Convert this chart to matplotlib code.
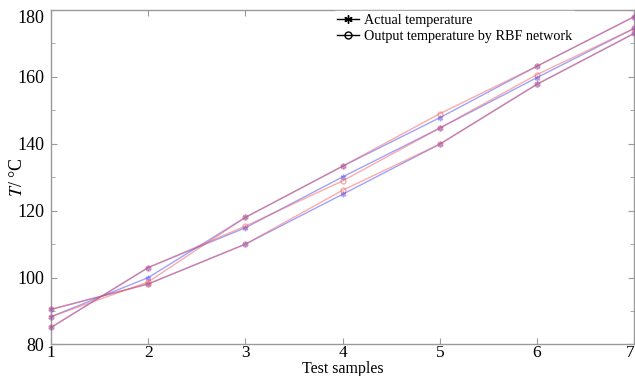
import matplotlib
matplotlib.use('Agg')
import matplotlib.pyplot as plt
from matplotlib.lines import Line2D

plt.rcParams['font.family'] = ['Liberation Serif', 'DejaVu Serif']
plt.rcParams['mathtext.fontset'] = 'stix'

# ── Data ─────────────────────────────────────────────────────────────────────
samples = [1, 2, 3, 4, 5, 6, 7]

actual_1 = [85.1, 103.0, 114.9, 130.1, 144.7, 159.8, 174.5]
output_1 = [85.1, 103.0, 115.4, 128.9, 144.7, 160.7, 174.5]

actual_2 = [88.3, 100.0, 118.0, 133.3, 147.8, 163.2, 178.0]
output_2 = [88.3, 98.7, 118.0, 133.3, 149.0, 163.2, 178.0]

actual_3 = [90.5, 98.1, 110.0, 124.9, 139.9, 157.8, 173.0]
output_3 = [90.5, 98.1, 110.0, 126.1, 139.9, 157.8, 173.0]

y_major = [80, 100, 120, 140, 160, 180]
y_minor = [90, 110, 130, 150, 170]

ACTUAL_SERIES = [actual_1, actual_2, actual_3]
OUTPUT_SERIES = [output_1, output_2, output_3]

BLUE = '#4646f0'
RED = '#f25a5a'
GRAY = '#9a9a9a'
ASTERISK = (6, 2, 0)

fig = plt.figure(figsize=(6.35, 3.76), dpi=100)
ax = fig.add_axes([0.0803, 0.0838, 0.9184, 0.8896])

for ys in ACTUAL_SERIES:
    ax.plot(samples, ys, color=BLUE, lw=1.0, alpha=0.5, marker=ASTERISK, ms=4,
            mec=BLUE, mfc=BLUE, clip_on=False, zorder=3)
for ys in OUTPUT_SERIES:
    ax.plot(samples, ys, color=RED, lw=1.0, alpha=0.5, marker='o', ms=3.5,
            mec=RED, mfc='none', clip_on=False, zorder=3)

ax.set_xlim(1, 7)
ax.set_ylim(80, 180)
ax.set_xticks(samples)
ax.set_yticks(y_major)
ax.set_yticks(y_minor, minor=True)

for sp in ax.spines.values():
    sp.set_color(GRAY)
    sp.set_linewidth(1.0)

ax.tick_params(which='both', direction='in', top=True, right=True, color=GRAY)
ax.tick_params(which='major', length=4)
ax.tick_params(which='minor', length=3)
ax.tick_params(axis='x', labelsize=12.5, pad=0.5)
ax.tick_params(axis='y', labelsize=13, pad=5)

ax.get_xticklabels()[-1].set_ha('right')
ax.get_yticklabels()[-1].set_va('top')

ax.set_xlabel('Test samples', fontsize=11.5, va='center')
ax.xaxis.set_label_coords(0.5, -0.074)
ax.set_ylabel(r'$T$/ °C', fontsize=13, va='center')
ax.yaxis.set_label_coords(-0.058, 0.5)

handles = [
    Line2D([], [], color='black', lw=1.0, marker=ASTERISK, ms=6),
    Line2D([], [], color='black', lw=1.0, marker='o', ms=5, mfc='none'),
]
leg = ax.legend(handles, ['Actual temperature', 'Output temperature by RBF network'],
                loc='upper left', bbox_to_anchor=(0.484, 1.0), fontsize=10.2,
                frameon=True, fancybox=False, edgecolor='white', framealpha=1.0,
                borderpad=0.15, handlelength=1.6, handletextpad=0.3,
                labelspacing=0.25, borderaxespad=0.1)
leg.set_zorder(5)

fig.savefig('out.png', dpi=100)
